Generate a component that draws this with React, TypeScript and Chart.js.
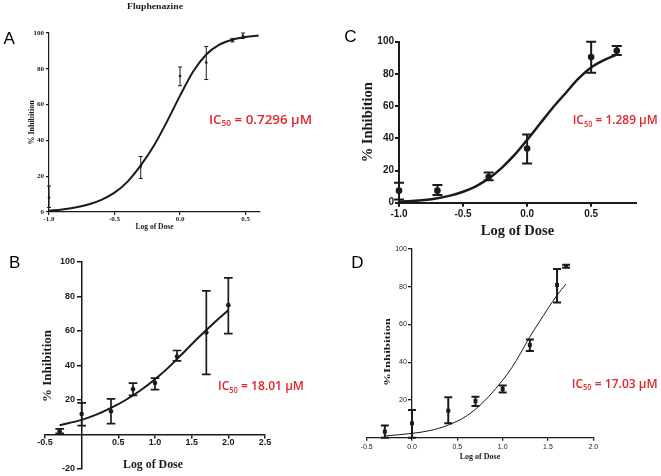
import React, { useEffect, useRef } from 'react';
import { Chart, registerables } from 'chart.js';
Chart.register(...registerables);

// ---------------- Panel A (Fluphenazine) ----------------
const doseA = [-1.0, -0.3, 0.0, 0.2, 0.4, 0.48];
const inhibA = [8, 25.4, 76, 83.5, 96, 98.5];
const lowA = [2.5, 18.7, 70.5, 74, 95, 97];
const highA = [14.5, 31, 81, 92.5, 97, 100];
const fitXA = [-1.0, -0.9, -0.8, -0.7, -0.6, -0.5, -0.4, -0.3, -0.2, -0.1, 0.0, 0.1, 0.2, 0.3, 0.4, 0.5, 0.6];
const fitYA = [0.7, 1.4, 2.5, 4.2, 6.8, 10.8, 17, 26, 37, 50.5, 65, 78.5, 88, 93.5, 96.3, 97.8, 98.6];
const xTicksA = [-1.0, -0.5, 0.0, 0.5];
const yTicksA = [0, 20, 40, 60, 80, 100];
const icA = '0.7296';

// ---------------- Panel B ----------------
const doseB = [-0.3, 0.0, 0.4, 0.7, 1.0, 1.3, 1.7, 2.0];
const inhibB = [1.9, 11.9, 13.5, 26.3, 29.8, 45.2, 59.2, 75];
const lowB = [0.6, 5.2, 6.3, 22.7, 26, 42.7, 34.8, 58.5];
const highB = [3.3, 18.3, 20.6, 29.8, 32.7, 48.7, 83.3, 90.8];
const fitXB = [-0.3, 0.0, 0.2, 0.4, 0.6, 0.8, 1.0, 1.2, 1.4, 1.6, 1.8, 2.0];
const fitYB = [5.4, 8.5, 11.5, 15.4, 20, 25.5, 32, 39.5, 48, 56.5, 64.5, 72];
const xTicksB = [-0.5, 0.5, 1.0, 1.5, 2.0, 2.5];
const yTicksB = [-20, 20, 40, 60, 80, 100];
const icB = '18.01';

// ---------------- Panel C ----------------
const doseC = [-1.0, -0.7, -0.3, 0.0, 0.5, 0.7];
const inhibC = [7.5, 7.5, 16, 33.7, 90.5, 94.4];
const lowC = [2, 4.8, 14, 24.4, 80.7, 91.7];
const highC = [12.4, 11, 18.8, 42.4, 100, 97.3];
const fitXC = [-1.0, -0.9, -0.8, -0.7, -0.6, -0.5, -0.4, -0.3, -0.2, -0.1, 0.0, 0.1, 0.2, 0.3, 0.4, 0.5, 0.6, 0.7];
const fitYC = [0.6, 1.0, 1.7, 2.8, 4.4, 6.8, 10.2, 15, 21.5, 29.5, 39, 49, 59, 68, 77, 84, 88.5, 92];
const xTicksC = [-1.0, -0.5, 0.0, 0.5];
const yTicksC = [0, 20, 40, 60, 80, 100];
const icC = '1.289';

// ---------------- Panel D ----------------
const doseD = [-0.3, 0.0, 0.4, 0.7, 1.0, 1.3, 1.6, 1.7];
const inhibD = [3.2, 7.6, 14.3, 19.4, 25.8, 49.1, 80.9, 91];
const lowD = [0, 0, 7.6, 16.8, 24, 45.9, 71.7, 90.1];
const highD = [6.4, 14.7, 21.4, 21.7, 27.6, 52.1, 89.4, 91.7];
const fitXD = [-0.3, 0.0, 0.2, 0.4, 0.6, 0.8, 1.0, 1.1, 1.2, 1.3, 1.4, 1.5, 1.6, 1.7];
const fitYD = [0.9, 2.3, 3.8, 6.7, 11.5, 19.5, 30.5, 37, 45, 53.5, 61, 68.5, 75.5, 81.5];
const xTicksD = [-0.5, 0.0, 0.5, 1.0, 1.5, 2.0];
const yTicksD = [20, 40, 60, 80, 100];
const icD = '17.03';

const SERIF = "'Liberation Serif', 'Times New Roman', serif";
const SANS = "'Liberation Sans', Arial, sans-serif";
const IC_FONT = "'Open Sans', 'Noto Sans', sans-serif";
const INK = '#1a1a1a';
const RED = '#e2262d';

type TextItem = {
  kind: 'text' | 'ic';
  text: string;
  x: number;
  y: number;
  font?: string;
  size?: number;
  rot?: number;
  width?: number;
  align?: CanvasTextAlign;
  color?: string;
};

function drawItem(ctx: CanvasRenderingContext2D, it: TextItem, ox: number, oy: number) {
  ctx.save();
  ctx.translate(it.x - ox, it.y - oy);
  if (it.rot) ctx.rotate(it.rot);
  ctx.textBaseline = 'middle';
  if (it.kind === 'text') {
    ctx.font = it.font!;
    ctx.fillStyle = it.color || INK;
    const w = ctx.measureText(it.text).width;
    if (it.width) ctx.scale(it.width / w, 1);
    ctx.textAlign = it.align || 'center';
    ctx.fillText(it.text, 0, 0);
  } else {
    const size = it.size || 13;
    const big = `600 ${size}px ${IC_FONT}`;
    const small = `600 ${size * 0.62}px ${IC_FONT}`;
    const parts = [
      { t: 'IC', f: big, dy: 0, w: 0 },
      { t: '50', f: small, dy: size * 0.3, w: 0 },
      { t: ` = ${it.text} µM`, f: big, dy: 0, w: 0 },
    ];
    let total = 0;
    parts.forEach((p) => {
      ctx.font = p.f;
      p.w = ctx.measureText(p.t).width;
      total += p.w;
    });
    if (it.width) ctx.scale(it.width / total, 1);
    ctx.fillStyle = RED;
    ctx.textAlign = 'left';
    let cx = 0;
    parts.forEach((p) => {
      ctx.font = p.f;
      ctx.fillText(p.t, cx, p.dy);
      cx += p.w;
    });
  }
  ctx.restore();
}

type Spec = {
  key: string;
  left: number; top: number; width: number; height: number;
  dose: number[]; mean: number[]; low: number[]; high: number[];
  fitX: number[]; fitY: number[];
  xMin: number; xMax: number; yMin: number; yMax: number;
  xTicks: number[]; yTicks: number[];
  xPos: any; yPos: any; xFit: number; yFit: number;
  padding: { left: number; right: number; top: number; bottom: number };
  xTickFont: any; yTickFont: any;
  xTl: number; xPad: number; yTl: number; yPad: number;
  axisWidth: number;
  xTitle?: any; yTitle?: any;
  curveWidth: number; pointRadius: number; pointStyle: string;
  errWidth: number; capHalf: number;
  texts: TextItem[];
};

const specs: Spec[] = [
  {
    key: 'A', left: 0, top: 0, width: 330, height: 232,
    dose: doseA, mean: inhibA, low: lowA, high: highA, fitX: fitXA, fitY: fitYA,
    xMin: -1.0, xMax: 0.61, yMin: 0, yMax: 100, xTicks: xTicksA, yTicks: yTicksA,
    xPos: 'bottom', yPos: 'left', xFit: 20, yFit: 25,
    padding: { left: 24, right: 70, top: 33, bottom: 0 },
    xTickFont: { family: SERIF, size: 7, weight: 'bold' },
    yTickFont: { family: SERIF, size: 7, weight: 'bold' },
    xTl: 3, xPad: 0, yTl: 3, yPad: 2, axisWidth: 1.2,
    xTitle: { display: true, text: 'Log of Dose', color: INK, font: { family: SERIF, size: 7.5, weight: 'bold' }, padding: { top: 0, bottom: 0.5 } },
    yTitle: { display: true, text: '% Inhibition', color: INK, font: { family: SERIF, size: 8, weight: 'bold' }, padding: { top: 3.5, bottom: 0 } },
    curveWidth: 2, pointRadius: 1.3, pointStyle: 'circle', errWidth: 1, capHalf: 2,
    texts: [
      { kind: 'text', text: 'A', x: 9.2, y: 39.5, font: `17px ${SANS}`, color: '#000' },
      { kind: 'text', text: 'Fluphenazine', x: 155, y: 7, font: `bold 9px ${SERIF}`, width: 56 },
      { kind: 'ic', text: icA, x: 209, y: 120, width: 103, size: 13 },
    ],
  },
  {
    key: 'C', left: 330, top: 0, width: 331, height: 240,
    dose: doseC, mean: inhibC, low: lowC, high: highC, fitX: fitXC, fitY: fitYC,
    xMin: -1.0, xMax: 0.85, yMin: 0, yMax: 100, xTicks: xTicksC, yTicks: yTicksC,
    xPos: 'bottom', yPos: 'left', xFit: 37.3, yFit: 40,
    padding: { left: 29, right: 25, top: 41.7, bottom: 0 },
    xTickFont: { family: SANS, size: 10, weight: 'bold' },
    yTickFont: { family: SANS, size: 10, weight: 'bold' },
    xTl: 4, xPad: 2, yTl: 4, yPad: 1, axisWidth: 2,
    xTitle: { display: true, text: 'Log of Dose', color: INK, font: { family: SERIF, size: 14.5, weight: 'bold' }, padding: { top: 0, bottom: 0.3 } },
    yTitle: { display: true, text: '% Inhibition', color: INK, font: { family: SERIF, size: 14.5, weight: 'bold' }, padding: { top: 0.3, bottom: 0 } },
    curveWidth: 2.5, pointRadius: 3.3, pointStyle: 'circle', errWidth: 2, capHalf: 5,
    texts: [
      { kind: 'text', text: 'C', x: 350.5, y: 37.5, font: `17px ${SANS}`, color: '#000' },
      { kind: 'ic', text: icC, x: 572.7, y: 120.7, width: 85, size: 13 },
    ],
  },
  {
    key: 'B', left: 0, top: 232, width: 330, height: 244,
    dose: doseB, mean: inhibB, low: lowB, high: highB, fitX: fitXB, fitY: fitYB,
    xMin: -0.5, xMax: 2.5, yMin: -20, yMax: 100, xTicks: xTicksB, yTicks: yTicksB,
    xPos: { y: 0 }, yPos: { x: 0 }, xFit: 0, yFit: 0,
    padding: { left: 45, right: 65, top: 30, bottom: 7 },
    xTickFont: { family: SANS, size: 9, weight: 'bold', lineHeight: 1 },
    yTickFont: { family: SANS, size: 9, weight: 'bold' },
    xTl: 3, xPad: 0.8, yTl: 4, yPad: 2, axisWidth: 1.5,
    curveWidth: 2, pointRadius: 2.3, pointStyle: 'circle', errWidth: 1.7, capHalf: 4.3,
    texts: [
      { kind: 'text', text: 'B', x: 14.7, y: 263.3, font: `17px ${SANS}`, color: '#000' },
      { kind: 'text', text: '% Inhibition', x: 48, y: 366, rot: -Math.PI / 2, font: `bold 12px ${SERIF}`, width: 72 },
      { kind: 'text', text: 'Log of Dose', x: 153, y: 465, font: `bold 12px ${SERIF}`, width: 60 },
      { kind: 'ic', text: icB, x: 218, y: 386.7, width: 86, size: 13 },
    ],
  },
  {
    key: 'D', left: 330, top: 232, width: 331, height: 244,
    dose: doseD, mean: inhibD, low: lowD, high: highD, fitX: fitXD, fitY: fitYD,
    xMin: -0.5, xMax: 2.0, yMin: 0, yMax: 100, xTicks: xTicksD, yTicks: yTicksD,
    xPos: 'bottom', yPos: { x: 0 }, xFit: 25, yFit: 0,
    padding: { left: 36.7, right: 67.7, top: 17, bottom: 13.3 },
    xTickFont: { family: SANS, size: 7 },
    yTickFont: { family: SANS, size: 7 },
    xTl: 3, xPad: 2.4, yTl: 3, yPad: 1.5, axisWidth: 1.3,
    xTitle: { display: true, text: 'Log of Dose', color: INK, font: { family: SERIF, size: 8, weight: 'bold' }, padding: { top: 0, bottom: 0.9 } },
    curveWidth: 1, pointRadius: 2.8, pointStyle: 'rect', errWidth: 2, capHalf: 4,
    texts: [
      { kind: 'text', text: 'D', x: 357.5, y: 263, font: `17px ${SANS}`, color: '#000' },
      { kind: 'text', text: '%Inhibition', x: 388, y: 352, rot: -Math.PI / 2, font: `bold 8.5px ${SERIF}`, width: 68 },
      { kind: 'ic', text: icD, x: 571.7, y: 384, width: 86, size: 13 },
    ],
  },
];

function fontString(f: any) {
  return `${f.weight || 'normal'} ${f.size}px ${f.family}`;
}

function buildConfig(p: Spec): any {
  const yCentered = typeof p.yPos === 'object';
  const errorBars = {
    id: 'errorBars',
    afterDatasetsDraw(chart: any) {
      const { ctx } = chart;
      const x = chart.scales.x;
      const y = chart.scales.y;
      ctx.save();
      ctx.strokeStyle = INK;
      ctx.lineWidth = p.errWidth;
      p.dose.forEach((d, i) => {
        const px = x.getPixelForValue(d);
        const yl = y.getPixelForValue(p.low[i]);
        const yh = y.getPixelForValue(p.high[i]);
        ctx.beginPath();
        ctx.moveTo(px, yl);
        ctx.lineTo(px, yh);
        ctx.moveTo(px - p.capHalf, yl);
        ctx.lineTo(px + p.capHalf, yl);
        ctx.moveTo(px - p.capHalf, yh);
        ctx.lineTo(px + p.capHalf, yh);
        ctx.stroke();
      });
      ctx.restore();
    },
  };
  const texts = {
    id: 'panelTexts',
    afterDraw(chart: any) {
      const { ctx } = chart;
      if (yCentered) {
        // tick labels of the y axis that crosses at x = 0, placed left of its tick marks
        const ys = chart.scales.y;
        const xs = chart.scales.x;
        const x0 = xs.getPixelForValue(p.yPos.x) - p.axisWidth / 2 - p.yTl - p.yPad;
        ctx.save();
        ctx.font = fontString(p.yTickFont);
        ctx.fillStyle = INK;
        ctx.textAlign = 'right';
        ctx.textBaseline = 'middle';
        ys.ticks.forEach((t: any) => {
          ctx.fillText(String(t.label), x0, ys.getPixelForValue(t.value));
        });
        ctx.restore();
      }
      p.texts.forEach((t) => drawItem(ctx, t, p.left, p.top));
    },
  };
  const axis = (which: 'x' | 'y') => {
    const isX = which === 'x';
    const title = isX ? p.xTitle : p.yTitle;
    const ticksArr = isX ? p.xTicks : p.yTicks;
    return {
      type: 'linear',
      position: isX ? p.xPos : p.yPos,
      min: isX ? p.xMin : p.yMin,
      max: isX ? p.xMax : p.yMax,
      afterBuildTicks: (s: any) => {
        s.ticks = ticksArr.map((v) => ({ value: v }));
      },
      afterFit: (s: any) => {
        if (isX) s.height = p.xFit;
        else s.width = p.yFit;
      },
      ticks: {
        display: isX || !yCentered,
        callback: (v: any) => (isX ? Number(v).toFixed(1) : String(v)),
        font: isX ? p.xTickFont : p.yTickFont,
        color: INK,
        padding: isX ? p.xPad : p.yPad,
        autoSkip: false,
        maxRotation: 0,
        minRotation: 0,
      },
      grid: {
        display: true,
        drawOnChartArea: false,
        drawTicks: true,
        tickLength: isX ? p.xTl : p.yTl,
        color: INK,
        lineWidth: p.axisWidth,
      },
      border: { display: true, color: INK, width: p.axisWidth },
      title: title || { display: false },
    };
  };
  return {
    type: 'line',
    data: {
      datasets: [
        {
          data: p.fitX.map((x, i) => ({ x, y: p.fitY[i] })),
          borderColor: INK,
          borderWidth: p.curveWidth,
          pointRadius: 0,
          cubicInterpolationMode: 'monotone',
          fill: false,
          clip: false,
        },
        {
          data: p.dose.map((x, i) => ({ x, y: p.mean[i] })),
          showLine: false,
          pointRadius: p.pointRadius,
          pointStyle: p.pointStyle,
          pointBackgroundColor: INK,
          pointBorderColor: INK,
          pointBorderWidth: 0,
          clip: false,
        },
      ],
    },
    options: {
      responsive: false,
      animation: false,
      devicePixelRatio: 1,
      layout: { padding: p.padding },
      plugins: {
        legend: { display: false },
        tooltip: { enabled: false },
        title: { display: false },
      },
      scales: { x: axis('x'), y: axis('y') },
    },
    plugins: [errorBars, texts],
  };
}

function Panel({ spec }: { spec: Spec }) {
  const ref = useRef<HTMLCanvasElement>(null);
  useEffect(() => {
    const chart = new Chart(ref.current as HTMLCanvasElement, buildConfig(spec));
    return () => chart.destroy();
  }, [spec]);
  return (
    <canvas
      ref={ref}
      width={spec.width}
      height={spec.height}
      style={{ position: 'absolute', left: spec.left, top: spec.top, width: spec.width, height: spec.height }}
    />
  );
}

export default function App() {
  return (
    <div style={{ position: 'fixed', left: 0, top: 0, width: 661, height: 476, overflow: 'hidden', background: '#fff' }}>
      {specs.map((s) => (
        <Panel key={s.key} spec={s} />
      ))}
    </div>
  );
}
